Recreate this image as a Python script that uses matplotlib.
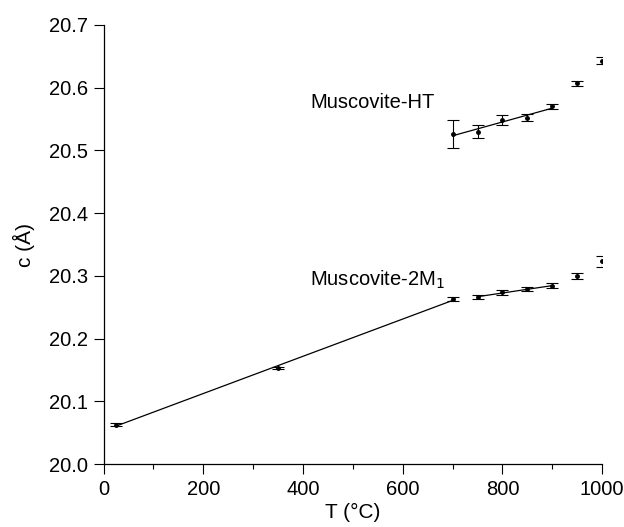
import numpy as np
import matplotlib.pyplot as plt

plt.rcParams["font.family"] = ["Liberation Sans", "DejaVu Sans"]

# Muscovite-2M1
T_2M1 = np.array([25, 350, 700, 750, 800, 850, 900, 950, 1000])
C_2M1 = np.array([20.063, 20.153, 20.263, 20.266, 20.274, 20.279, 20.284, 20.300, 20.323])
ERR_2M1 = np.array([0.002, 0.002, 0.003, 0.003, 0.004, 0.003, 0.004, 0.005, 0.008])

# Muscovite-HT
T_HT = np.array([700, 750, 800, 850, 900, 950, 1000])
C_HT = np.array([20.526, 20.530, 20.548, 20.552, 20.570, 20.607, 20.643])
ERR_HT = np.array([0.022, 0.011, 0.008, 0.006, 0.004, 0.004, 0.005])


def fit_line(ax, t, c):
    """Draw a least squares line over the given points."""
    slope, intercept = np.polyfit(t, c, 1)
    ends = np.array([t.min(), t.max()])
    ax.plot(ends, slope * ends + intercept, color="black", lw=0.9)


def main():
    fig = plt.figure(figsize=(6.24, 5.27), dpi=100)
    ax = fig.add_axes([0.166, 0.119, 0.799, 0.834])

    for t, c, e in [(T_2M1, C_2M1, ERR_2M1), (T_HT, C_HT, ERR_HT)]:
        ax.errorbar(t, c, yerr=e, fmt="o", ms=2.5, color="black",
                    ecolor="black", elinewidth=0.8, capsize=4, capthick=0.8)

    # fitted segments
    fit_line(ax, T_2M1[:3], C_2M1[:3])
    fit_line(ax, T_2M1[3:7], C_2M1[3:7])
    fit_line(ax, T_HT[:5], C_HT[:5])

    ax.text(414, 20.576, "Muscovite-HT", fontsize=14.5, va="center")
    ax.text(414, 20.294, "Muscovite-2M$_1$", fontsize=14.5, va="center")

    ax.set_xlim(0, 1000)
    ax.set_ylim(20.0, 20.7)
    ax.set_xticks(np.arange(0, 1001, 200))
    ax.set_xticks(np.arange(100, 1000, 200), minor=True)
    ax.set_yticks(np.arange(20.0, 20.71, 0.1))
    ax.set_yticklabels([f"{v:.1f}" for v in np.arange(20.0, 20.71, 0.1)])
    ax.tick_params(axis="both", which="major", direction="out", length=7,
                   width=0.8, labelsize=14.5, pad=4)
    ax.tick_params(axis="x", which="minor", direction="out", length=3.5, width=0.8)
    for side in ["top", "right"]:
        ax.spines[side].set_visible(False)
    for side in ["left", "bottom"]:
        ax.spines[side].set_linewidth(0.9)

    ax.set_xlabel("T (°C)", fontsize=15, labelpad=3)
    ax.set_ylabel("c (Å)", fontsize=15, labelpad=10)

    fig.savefig("out.png", dpi=100)


if __name__ == "__main__":
    main()
